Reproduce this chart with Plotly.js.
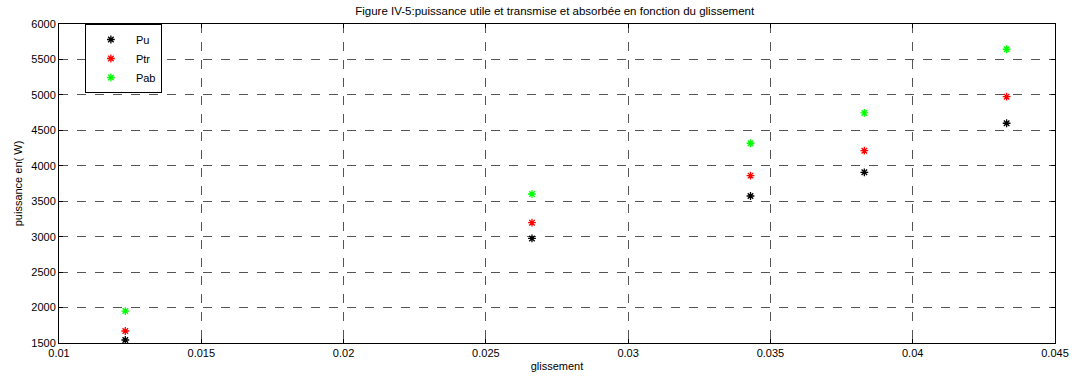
<!DOCTYPE html>
<html>
<head>
<meta charset="utf-8">
<script src="https://cdn.plot.ly/plotly-3.0.1.min.js"></script>
<style>
  html, body { margin: 0; padding: 0; background: #fff; }
  #chart { width: 1075px; height: 378px; }
</style>
</head>
<body>
<div id="chart"></div>
<script>
// Slip values (glissement) and the three power series in watts
const glissement = [0.01233, 0.02662, 0.0343, 0.0383, 0.0433];
const Pu  = [1542, 2975, 3574, 3908, 4600];
const Ptr = [1669, 3197, 3861, 4213, 4975];
const Pab = [1951, 3602, 4318, 4745, 5644];

const xTicks = [0.01, 0.015, 0.02, 0.025, 0.03, 0.035, 0.04, 0.045];
const xTickText = ['0.01', '0.015', '0.02', '0.025', '0.03', '0.035', '0.04', '0.045'];
const yTicks = [1500, 2000, 2500, 3000, 3500, 4000, 4500, 5000, 5500, 6000];

function series(name, y, color) {
  return {
    x: glissement, y: y, name: name, type: 'scatter', mode: 'markers',
    marker: { symbol: 'asterisk-open', size: 6.5, color: color, line: { color: color, width: 1.3 } }
  };
}

const data = [
  series('Pu', Pu, '#000000'),
  series('Ptr', Ptr, '#ff0000'),
  series('Pab', Pab, '#00ff00')
];

const axisCommon = {
  showline: true, linecolor: '#000', linewidth: 1, mirror: 'allticks',
  ticks: 'inside', ticklen: 4, tickcolor: '#000',
  showgrid: true, gridcolor: '#555', gridwidth: 1, griddash: 'dash',
  zeroline: false, tickfont: { family: 'Liberation Sans, Arial, sans-serif', size: 11, color: '#000' }
};

const layout = {
  width: 1075, height: 378,
  margin: { l: 59, r: 20, t: 24, b: 35 },
  paper_bgcolor: '#fff', plot_bgcolor: '#fff',
  font: { family: 'Liberation Sans, Arial, sans-serif', color: '#000' },
  title: {
    text: 'Figure IV-5:puissance utile et transmise et absorbée en fonction du glissement',
    font: { size: 11.5, color: '#000' }, x: 0.516, xanchor: 'center', y: 0.97, yanchor: 'middle'
  },
  xaxis: Object.assign({}, axisCommon, {
    range: [0.01, 0.045], tickvals: xTicks, ticktext: xTickText,
    title: { text: 'glissement', font: { size: 11 }, standoff: 4 }
  }),
  yaxis: Object.assign({}, axisCommon, {
    range: [1500, 6000], tickvals: yTicks,
    title: { text: 'puissance en( W)', font: { size: 11 }, standoff: 6 }
  }),
  legend: {
    x: 0.026, y: 1.0, xanchor: 'left', yanchor: 'top',
    bgcolor: '#fff', bordercolor: '#000', borderwidth: 1,
    font: { size: 11, color: '#000' }, tracegroupgap: 0, itemwidth: 40
  },
  showlegend: true
};

Plotly.newPlot('chart', data, layout, { displayModeBar: false, staticPlot: true });
</script>
</body>
</html>
